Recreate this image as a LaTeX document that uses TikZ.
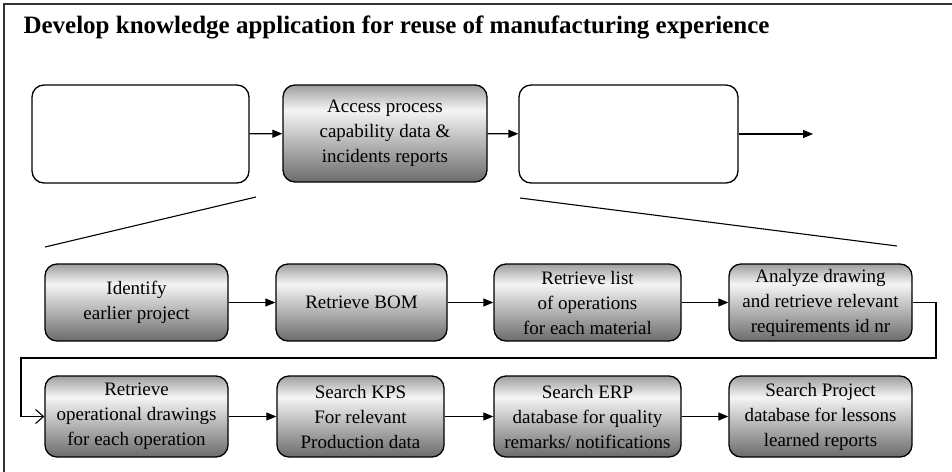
\documentclass[tikz,border=0pt]{standalone}
\usepackage{fontspec}
\setmainfont{Liberation Serif}
\usetikzlibrary{arrows.meta}
\definecolor{shadelow}{gray}{0.42}
\definecolor{shadehigh}{gray}{0.96}
\definecolor{shadetop}{gray}{0.62}
\definecolor{framecol}{gray}{0.2}
\pgfdeclareverticalshading{stepshade}{100bp}{%
  color(0bp)=(shadelow); color(25bp)=(shadelow);
  color(62bp)=(shadehigh); color(75bp)=(shadetop); color(100bp)=(shadetop)}
\tikzset{
  plainbox/.style={draw=black, line width=1.3pt, rounded corners=12pt,
    inner sep=0pt, align=center},
  stepbox/.style={plainbox, shading=stepshade,
    font=\fontsize{19}{25}\selectfont},
  link/.style={line width=1.1pt, -{Triangle[length=10pt,width=8pt]}},
  zoomline/.style={line width=1.1pt},
}
\begin{document}
\begin{tikzpicture}[x=1pt,y=-1pt]
\useasboundingbox (0,0) rectangle (952,471);
% frame (top and left edges)
\draw[framecol, line width=1.5pt] (4,480) -- (4,4) -- (960,4);
\node[anchor=base west, font=\fontsize{25}{28}\selectfont\bfseries] (title) at (20,33)
  {Develop knowledge application for reuse of manufacturing experience};

% top level chain
\node[plainbox, minimum width=217pt, minimum height=98pt] (t1) at (140.5,134) {};
\node[stepbox, minimum width=204pt, minimum height=97pt] (t2) at (385,133.5)
  {Access process\\capability data \&\\incidents reports};
\node[plainbox, minimum width=219pt, minimum height=98pt] (t3) at (628.5,134) {};
\coordinate (tend) at (813,134);
\draw[link] (t1) -- (t2);
\draw[link] (t2) -- (t3);
\draw[link] (t3) -- (tend);

% expansion lines
\coordinate (zl1) at (256,197);
\coordinate (zl2) at (45,247);
\coordinate (zr1) at (520,198);
\coordinate (zr2) at (897,246);
\draw[zoomline] (zl1) -- (zl2);
\draw[zoomline] (zr1) -- (zr2);

% detailed steps, first row
\node[stepbox, minimum width=183pt, minimum height=77pt] (a) at (136.5,302.5)
  {Identify\\earlier project};
\node[stepbox, minimum width=171pt, minimum height=77pt] (b) at (361.5,302.5)
  {Retrieve BOM};
\node[stepbox, minimum width=187pt, minimum height=77pt] (c) at (587.5,302.5)
  {Retrieve list\\of operations\\for each material};
\node[stepbox, minimum width=183pt, minimum height=77pt] (d) at (820.5,302.5)
  {Analyze drawing\\and retrieve relevant\\requirements id nr};

% detailed steps, second row
\node[stepbox, minimum width=183pt, minimum height=81pt] (e) at (136.5,416.5)
  {Retrieve\\operational drawings\\for each operation};
\node[stepbox, minimum width=167pt, minimum height=81pt] (f) at (360.5,416.5)
  {Search KPS\\For relevant\\Production data};
\node[stepbox, minimum width=187pt, minimum height=81pt] (g) at (587.5,416.5)
  {Search ERP\\database for quality\\remarks/ notifications};
\node[stepbox, minimum width=183pt, minimum height=81pt] (h) at (820.5,416.5)
  {Search Project\\database for lessons\\learned reports};

\draw[link] (a) -- (b);
\draw[link] (b) -- (c);
\draw[link] (c) -- (d);
\draw[line width=1.1pt, -{Straight Barb[length=8pt,width=14pt]}]
  (d.east) -- (936,302.5) -- (936,358) -- (21,358) -- (21,416.5) -- (e.west);
\draw[link] (e) -- (f);
\draw[link] (f) -- (g);
\draw[link] (g) -- (h);
\end{tikzpicture}
\end{document}
